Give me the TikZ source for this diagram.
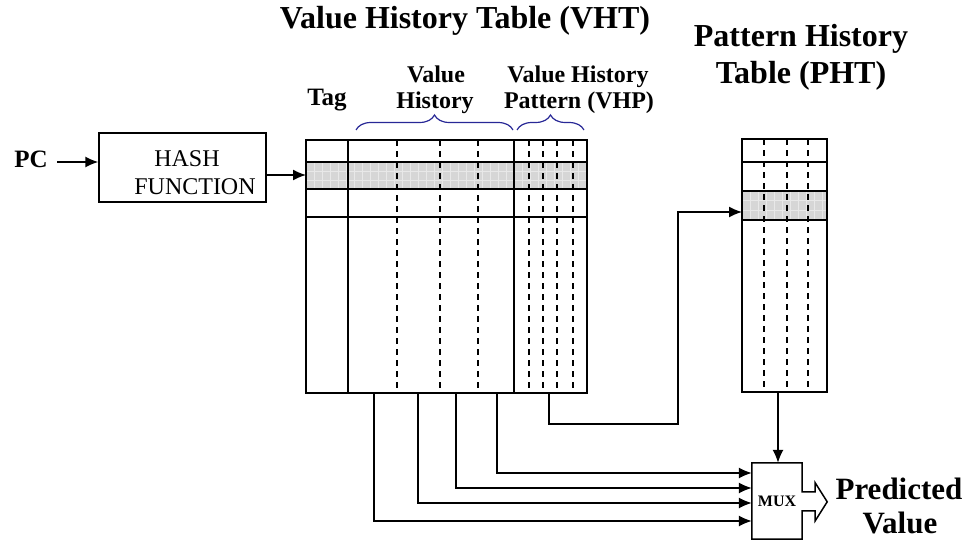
\documentclass[tikz,border=0pt]{standalone}
\usepackage{fontspec}
\setmainfont{Liberation Serif}
\usetikzlibrary{arrows.meta,decorations.pathreplacing}
\definecolor{rowgray}{RGB}{214,214,214}
\definecolor{rowgrid}{RGB}{232,232,232}
\definecolor{bracecol}{RGB}{40,40,150}

\begin{document}
\begin{tikzpicture}[x=1pt,y=-1pt,
  tbl/.style={line width=1.8pt},
  dsh/.style={line width=1.4pt, dash pattern=on 6pt off 5pt},
  conn/.style={line width=1.4pt, -{Latex[length=13pt,width=11pt]}},
  brc/.style={bracecol, line width=1.2pt, decorate, decoration={brace, amplitude=15pt}},
  ttl/.style={anchor=base, inner sep=0pt, font=\bfseries\fontsize{32}{36}\selectfont},
  lbl/.style={anchor=base, inner sep=0pt, font=\bfseries\fontsize{24}{27}\selectfont},
  plain/.style={anchor=base, inner sep=0pt, font=\fontsize{24}{28}\selectfont}]
\useasboundingbox (0,0) rectangle (969,543);

% ---------- titles ----------
\node[ttl] (vhtitle) at (465,29) {Value History Table (VHT)};
\node[ttl] (phtitleA) at (801,47) {Pattern History};
\node[ttl] (phtitleB) at (801,83) {Table (PHT)};

% ---------- column labels ----------
\node[lbl, font=\bfseries\fontsize{25}{28}\selectfont] (tag) at (327,106) {Tag};
\node[lbl] (vhA) at (436,82) {Value};
\node[lbl] (vhB) at (435,108) {History};
\node[lbl] (vhpA) at (578,82) {Value History};
\node[lbl] (vhpB) at (579,108) {Pattern (VHP)};

% braces over the column groups
\draw[brc] (356,130) -- (513,130);
\draw[brc] (517,130) -- (584,130);

% ---------- PC and hash function ----------
\node[anchor=base, inner sep=0pt, font=\bfseries\fontsize{25}{28}\selectfont] (pc) at (31,167) {PC};
\node[draw, line width=1.4pt, minimum width=167pt, minimum height=69pt, inner sep=0pt] (hash) at (182.5,167.5) {};
\node[plain] (hashA) at (187,166) {HASH};
\node[plain] (hashB) at (195,194) {FUNCTION};

\coordinate (pcout) at (57,162);
\coordinate (vhtrow) at (306,175);
\draw[conn] (pcout) -- (pcout -| hash.west);
\draw[conn] (hash.east |- vhtrow) -- (vhtrow);

% ---------- value history table ----------
\fill[rowgray] (306,162) rectangle (587,189);
\foreach \x in {314,322,...,586}
  \draw[rowgrid, line width=0.6pt] (\x,162) -- (\x,189);
\foreach \y in {171,180}
  \draw[rowgrid, line width=0.6pt] (306,\y) -- (587,\y);
\foreach \x in {397,440,478,529,543,557,573}
  \draw[dsh] (\x,140) -- (\x,393);
\foreach \y in {162,189,217}
  \draw[tbl] (306,\y) -- (587,\y);
\foreach \x in {348,514}
  \draw[tbl] (\x,140) -- (\x,393);
\draw[tbl] (306,140) rectangle (587,393);

% ---------- pattern history table ----------
\fill[rowgray] (742,191) rectangle (827,220);
\foreach \x in {750,758,...,826}
  \draw[rowgrid, line width=0.6pt] (\x,191) -- (\x,220);
\foreach \y in {200,210}
  \draw[rowgrid, line width=0.6pt] (742,\y) -- (827,\y);
\foreach \x in {764,787,808}
  \draw[dsh] (\x,139) -- (\x,392);
\foreach \y in {162,191,220}
  \draw[tbl] (742,\y) -- (827,\y);
\draw[tbl] (742,139) rectangle (827,392);

% ---------- multiplexer ----------
\node[minimum width=50pt, minimum height=76pt, inner sep=0pt,
      font=\bfseries\fontsize{16}{18}\selectfont] (mux) at (777,501) {MUX};
\draw[line width=1.5pt, line join=miter]
  (mux.north west) -- (mux.north east) -- ++(0,29) -- ++(13,0) -- ++(0,-9)
  -- ++(12,19) -- ++(-12,19) -- ++(0,-10) -- ++(-13,0)
  -- (mux.south east) -- (mux.south west) -- cycle;

\node[ttl, font=\bfseries\fontsize{31}{36}\selectfont] (predA) at (899,499) {Predicted};
\node[ttl, font=\bfseries\fontsize{31}{36}\selectfont] (predB) at (900,533) {Value};

% ---------- connections ----------
\coordinate (vh1) at (374,393);
\coordinate (vh2) at (418,393);
\coordinate (vh3) at (456,393);
\coordinate (vh4) at (497,393);
\coordinate (vhp) at (549,393);
\coordinate (bend) at (678,424);
\coordinate (phtin) at (742,212);
\coordinate (phtout) at (778,392);
\path (mux.west) ++(0,-28) coordinate (muxin1)
      (mux.west) ++(0,-13) coordinate (muxin2)
      (mux.west) ++(0,2)   coordinate (muxin3)
      (mux.west) ++(0,20)  coordinate (muxin4);

\draw[conn] (vhp) |- (bend) |- (phtin);
\draw[conn] (vh4) |- (muxin1);
\draw[conn] (vh3) |- (muxin2);
\draw[conn] (vh2) |- (muxin3);
\draw[conn] (vh1) |- (muxin4);
\draw[conn] (phtout) -- (phtout |- mux.north);
\end{tikzpicture}
\end{document}
